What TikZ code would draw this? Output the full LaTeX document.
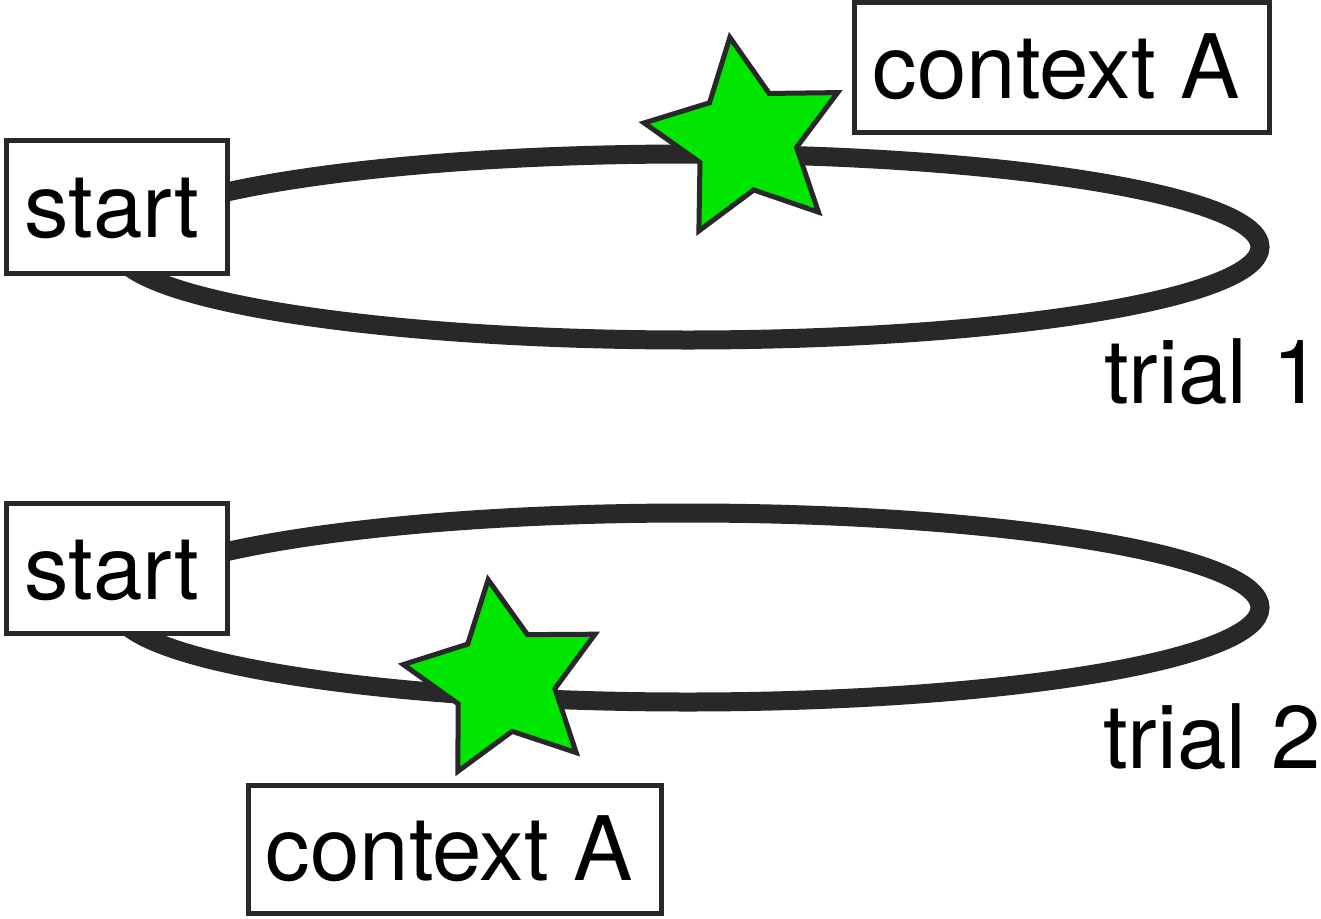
\documentclass[tikz,border=0pt]{standalone}
\usepackage{fontspec}
\setmainfont{TeX Gyre Heros}
\definecolor{ink}{HTML}{282828}
\definecolor{stargreen}{HTML}{00E600}
\begin{document}
\begin{tikzpicture}[x=1pt,y=-1pt,
  loopline/.style={draw=ink, line width=19pt},
  labelbox/.style={draw=ink, fill=white, line width=5pt, inner sep=0pt,
    text height=62pt, text depth=0pt, font=\fontsize{89}{100}\selectfont},
  starshape/.style={draw=ink, fill=stargreen, line width=5pt, line join=miter},
  triallabel/.style={inner sep=0pt, anchor=base east, font=\fontsize{89}{100}\selectfont}]
\useasboundingbox (0,0) rectangle (1321,918);
% loops
\draw[loopline] (688,247) ellipse [x radius=572, y radius=93];
\draw[loopline] (688,607.5) ellipse [x radius=572, y radius=94.5];
% start boxes
\node[labelbox, minimum width=221pt, minimum height=133.5pt] (start1) at (116.5,206.75) {start\hspace*{9pt}};
\node[labelbox, minimum width=221pt, minimum height=130pt] (start2) at (116.5,568) {start\hspace*{9pt}};
% stars
\coordinate (star1) at (745.8,139.2);
\coordinate (star2) at (504.1,680.5);
\draw[starshape, shift={(star1)}] (-98.9:103) -- (-62.9:51.4) -- (-26.9:103) -- (9.1:51.4) -- (45.1:103) -- (81.1:51.4) -- (117.1:103) -- (153.1:51.4) -- (189.1:103) -- (225.1:51.4) -- cycle;
\draw[starshape, shift={(star2)}] (-99:102) -- (-63:51.5) -- (-27:102) -- (9:51.5) -- (45:102) -- (81:51.5) -- (117:102) -- (153:51.5) -- (189:102) -- (225:51.5) -- cycle;
% context boxes
\node[labelbox, minimum width=415pt, minimum height=130pt] (ctxA1) at (1062,67.5) {context A\hspace*{11pt}};
\node[labelbox, minimum width=413pt, minimum height=128.5pt] (ctxA2) at (455,849.25) {context A\hspace*{11pt}};
% trial labels
\node[triallabel] (trial1) at (1322,403) {trial 1};
\node[triallabel] (trial2) at (1321,768) {trial 2};
\end{tikzpicture}
\end{document}
